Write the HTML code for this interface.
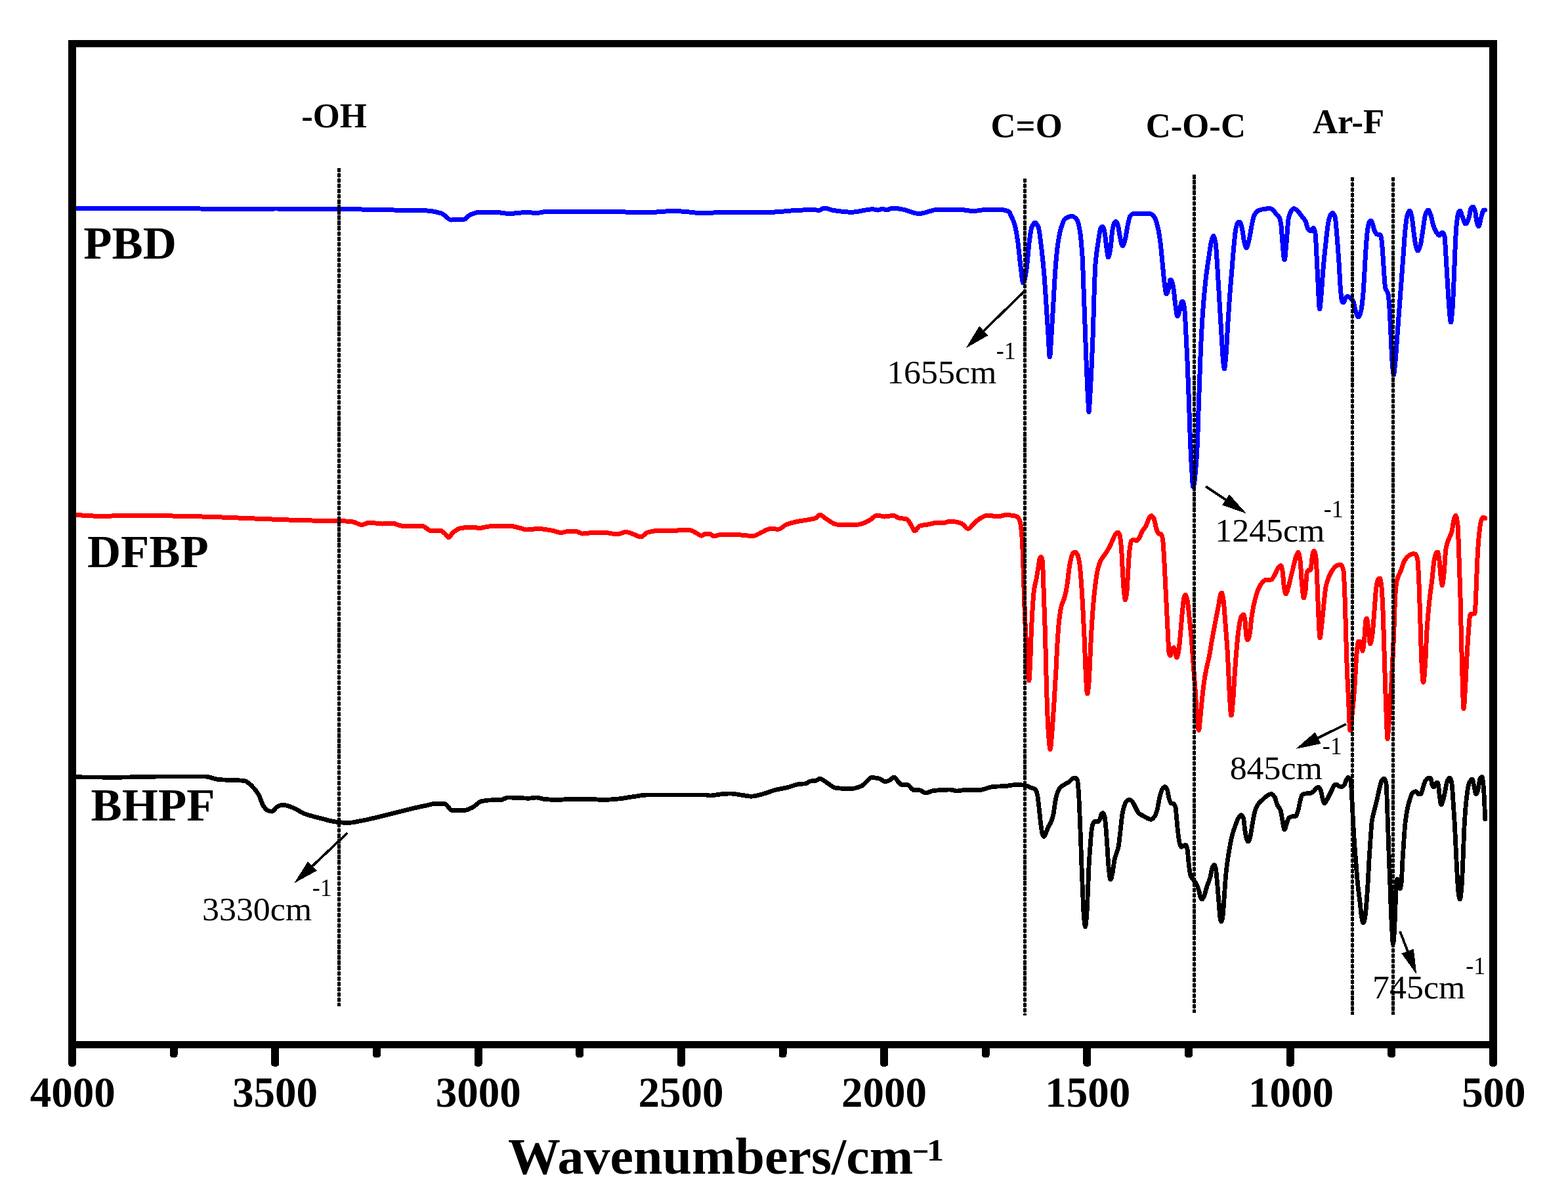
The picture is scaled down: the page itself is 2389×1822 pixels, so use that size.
<!DOCTYPE html>
<html lang="en"><head><meta charset="utf-8"><title>FTIR spectra</title>
<style>
html,body{margin:0;padding:0;background:#fff;}
body{width:2389px;height:1822px;overflow:hidden;}
svg{display:block;}
svg text{font-family:"Liberation Serif","DejaVu Serif",serif;fill:#000;}
</style></head><body>
<svg width="2389" height="1822" viewBox="0 0 2389 1822" shape-rendering="crispEdges">
<rect width="2389" height="1822" fill="#fff"/>

<path d="M110.0,317.5C160.0,317.5 210.0,317.5 260.0,317.5C290.0,317.5 320.0,318.5 350.0,318.5C373.3,318.5 396.7,318.0 420.0,318.0C452.0,318.0 484.0,318.2 516.0,318.5C544.0,318.7 572.0,319.5 600.0,320.0C615.8,320.3 631.7,320.2 647.5,320.8C655.8,321.0 664.2,322.6 672.5,325.0C677.5,326.4 682.5,335.0 687.5,335.0C694.2,335.0 700.8,334.8 707.5,334.2C710.0,334.0 712.5,329.2 715.0,328.0C720.0,325.6 725.0,323.2 730.0,323.2C740.0,323.2 750.0,323.4 760.0,323.8C765.0,323.9 770.0,325.5 775.0,325.5C784.2,325.5 793.3,323.5 802.5,323.5C807.5,323.5 812.5,324.5 817.5,324.5C823.3,324.5 829.2,322.0 835.0,322.0C869.2,322.0 903.3,322.0 937.5,322.0C945.8,322.0 954.2,323.5 962.5,323.5C971.7,323.5 980.8,323.5 990.0,323.5C1000.0,323.5 1010.0,321.8 1020.0,321.8C1025.8,321.8 1031.7,321.9 1037.5,322.0C1047.5,322.2 1057.5,324.5 1067.5,324.5C1074.2,324.5 1080.8,324.1 1087.5,324.0C1091.7,323.9 1095.8,323.8 1100.0,323.8C1125.0,323.5 1150.0,323.6 1175.0,323.2C1187.5,323.1 1200.0,321.1 1212.5,320.5C1221.7,320.1 1230.8,319.5 1240.0,319.5C1242.5,319.5 1245.0,320.5 1247.5,320.5C1250.3,320.5 1253.2,317.0 1256.0,317.0C1260.7,317.0 1265.3,319.8 1270.0,320.5C1279.2,321.9 1288.3,323.2 1297.5,323.2C1308.3,323.2 1319.2,318.8 1330.0,318.8C1332.5,318.8 1335.0,320.0 1337.5,320.0C1340.0,320.0 1342.5,318.2 1345.0,318.2C1346.7,318.2 1348.3,320.0 1350.0,320.0C1353.7,320.0 1357.3,317.0 1361.0,317.0C1365.7,317.0 1370.3,318.2 1375.0,319.0C1383.3,320.5 1391.7,325.5 1400.0,325.5C1410.0,325.5 1420.0,319.0 1430.0,319.0C1440.0,319.0 1450.0,319.0 1460.0,319.0C1467.5,319.0 1475.0,321.5 1482.5,321.5C1490.0,321.5 1497.5,319.2 1505.0,319.2C1511.7,319.2 1518.3,319.3 1525.0,319.5C1529.2,319.6 1533.3,320.3 1537.5,322.5C1538.3,322.9 1539.2,326.1 1540.0,328.0C1542.0,332.5 1544.0,335.3 1546.0,342.0C1547.7,347.6 1549.3,358.4 1551.0,370.0C1552.3,379.3 1553.7,396.2 1555.0,406.0C1556.3,415.8 1557.7,431.0 1559.0,431.0C1560.7,431.0 1562.3,420.0 1564.0,410.0C1565.3,402.0 1566.7,380.0 1568.0,370.0C1569.3,360.0 1570.7,349.1 1572.0,346.0C1573.7,342.1 1575.3,339.0 1577.0,339.0C1578.7,339.0 1580.3,342.1 1582.0,346.0C1583.7,349.9 1585.3,366.4 1587.0,380.0C1588.3,390.9 1589.7,404.0 1591.0,420.0C1592.1,433.6 1593.3,452.9 1594.4,470.0C1595.3,483.0 1596.1,497.2 1597.0,510.0C1597.8,521.8 1598.6,544.0 1599.4,544.0C1600.3,544.0 1601.1,522.7 1602.0,510.0C1603.0,495.4 1604.0,476.7 1605.0,460.0C1606.0,443.3 1607.0,422.7 1608.0,410.0C1609.3,393.1 1610.7,378.8 1612.0,370.0C1613.7,359.0 1615.3,351.0 1617.0,346.0C1619.0,340.0 1621.0,334.3 1623.0,333.0C1626.3,330.8 1629.7,329.4 1633.0,329.4C1635.7,329.4 1638.3,331.6 1641.0,335.0C1642.3,336.7 1643.7,342.7 1645.0,350.0C1646.3,357.3 1647.7,370.2 1649.0,390.0C1649.8,401.9 1650.6,429.1 1651.4,450.0C1652.1,469.1 1652.9,490.0 1653.6,510.0C1654.3,530.0 1655.1,553.1 1655.8,570.0C1656.5,585.3 1657.1,598.9 1657.8,610.0C1658.2,616.7 1658.6,627.5 1659.0,627.5C1659.5,627.5 1659.9,616.8 1660.4,610.0C1661.1,599.3 1661.9,584.9 1662.6,570.0C1663.5,552.4 1664.3,533.9 1665.2,510.0C1665.8,493.5 1666.4,466.8 1667.0,450.0C1667.7,431.3 1668.3,410.5 1669.0,402.0C1670.3,385.1 1671.7,378.7 1673.0,370.0C1674.3,361.3 1675.7,350.2 1677.0,348.0C1678.0,346.4 1679.0,345.0 1680.0,345.0C1681.0,345.0 1682.0,349.6 1683.0,354.0C1684.0,358.4 1685.0,371.6 1686.0,378.0C1686.9,383.6 1687.7,392.0 1688.6,392.0C1689.7,392.0 1690.9,384.5 1692.0,378.0C1693.0,372.2 1694.0,355.3 1695.0,350.0C1696.0,344.7 1697.0,340.1 1698.0,339.0C1698.7,338.3 1699.3,337.6 1700.0,337.6C1701.0,337.6 1702.0,339.7 1703.0,342.0C1704.3,345.0 1705.7,358.7 1707.0,364.0C1708.1,368.5 1709.3,374.6 1710.4,374.6C1711.6,374.6 1712.8,370.0 1714.0,366.0C1715.3,361.6 1716.7,349.9 1718.0,344.0C1719.3,338.1 1720.7,330.6 1722.0,329.0C1723.7,327.0 1725.3,325.6 1727.0,325.6C1735.3,325.6 1743.7,325.6 1752.0,325.6C1754.3,325.6 1756.7,328.0 1759.0,331.0C1760.7,333.1 1762.3,339.2 1764.0,346.0C1765.3,351.4 1766.7,359.9 1768.0,370.0C1769.0,377.6 1770.0,390.0 1771.0,400.0C1772.0,410.0 1773.0,422.5 1774.0,430.0C1775.0,437.5 1776.0,448.0 1777.0,448.0C1778.3,448.0 1779.7,442.9 1781.0,438.0C1781.7,435.5 1782.3,426.0 1783.0,426.0C1783.7,426.0 1784.3,426.4 1785.0,427.0C1786.0,427.9 1787.0,434.2 1788.0,440.0C1789.0,445.8 1790.0,459.4 1791.0,466.0C1792.0,472.6 1793.0,482.0 1794.0,482.0C1795.3,482.0 1796.7,475.1 1798.0,470.0C1798.7,467.4 1799.3,460.6 1800.0,460.0C1800.7,459.4 1801.3,459.0 1802.0,459.0C1803.0,459.0 1804.0,465.9 1805.0,474.0C1805.7,479.4 1806.3,497.4 1807.0,510.0C1807.7,522.6 1808.3,535.2 1809.0,550.0C1809.8,567.7 1810.6,588.1 1811.4,610.0C1812.1,628.2 1812.7,654.0 1813.4,670.0C1814.1,686.0 1814.7,699.7 1815.4,710.0C1816.3,723.3 1817.1,742.0 1818.0,742.0C1819.4,742.0 1820.8,725.2 1822.2,710.0C1823.0,701.3 1823.8,687.9 1824.6,670.0C1825.1,659.6 1825.5,639.9 1826.0,626.0C1826.7,606.2 1827.3,587.6 1828.0,570.0C1828.7,552.4 1829.3,533.5 1830.0,520.0C1831.0,499.7 1832.0,483.4 1833.0,470.0C1834.3,452.2 1835.7,437.7 1837.0,426.0C1838.7,411.4 1840.3,400.9 1842.0,390.0C1843.3,381.3 1844.7,370.1 1846.0,366.0C1847.0,362.9 1848.0,359.6 1849.0,359.6C1850.0,359.6 1851.0,364.5 1852.0,370.0C1853.0,375.5 1854.0,395.2 1855.0,410.0C1856.0,424.8 1857.0,443.3 1858.0,460.0C1859.0,476.7 1860.0,494.0 1861.0,510.0C1861.9,523.9 1862.7,542.1 1863.6,550.0C1864.2,555.5 1864.8,562.0 1865.4,562.0C1866.3,562.0 1867.1,549.7 1868.0,540.0C1869.0,528.9 1870.0,505.6 1871.0,490.0C1872.0,474.4 1873.0,459.2 1874.0,446.0C1875.0,432.8 1876.0,422.0 1877.0,410.0C1878.0,398.0 1879.0,384.1 1880.0,374.0C1881.0,363.9 1882.0,352.5 1883.0,348.0C1884.0,343.5 1885.0,339.7 1886.0,339.0C1886.8,338.4 1887.6,338.0 1888.4,338.0C1889.6,338.0 1890.8,342.1 1892.0,346.0C1893.2,349.9 1894.4,363.3 1895.6,368.0C1896.7,372.5 1897.9,378.0 1899.0,378.0C1900.3,378.0 1901.7,371.2 1903.0,366.0C1904.3,360.8 1905.7,350.2 1907.0,344.0C1908.3,337.8 1909.7,330.5 1911.0,328.0C1913.0,324.2 1915.0,322.0 1917.0,321.0C1920.0,319.6 1923.0,318.8 1926.0,318.4C1929.0,318.0 1932.0,317.6 1935.0,317.6C1936.7,317.6 1938.3,318.8 1940.0,320.0C1941.3,321.0 1942.7,324.4 1944.0,326.0C1945.7,328.0 1947.3,328.1 1949.0,331.0C1950.0,332.7 1951.0,337.3 1952.0,344.0C1952.7,348.5 1953.3,363.0 1954.0,370.0C1955.0,380.5 1956.0,396.0 1957.0,396.0C1958.0,396.0 1959.0,380.1 1960.0,370.0C1961.0,359.9 1962.0,339.2 1963.0,334.0C1964.0,328.8 1965.0,325.9 1966.0,324.0C1967.7,320.8 1969.3,317.6 1971.0,317.6C1973.0,317.6 1975.0,319.4 1977.0,321.0C1979.0,322.6 1981.0,326.3 1983.0,329.0C1985.0,331.7 1987.0,333.2 1989.0,337.0C1990.3,339.5 1991.7,347.4 1993.0,349.0C1994.3,350.6 1995.7,352.0 1997.0,352.0C1998.3,352.0 1999.7,347.6 2001.0,347.6C2002.0,347.6 2003.0,351.0 2004.0,356.0C2004.7,359.4 2005.3,377.7 2006.0,390.0C2006.7,402.3 2007.3,418.2 2008.0,430.0C2008.9,445.4 2009.7,471.0 2010.6,471.0C2011.4,471.0 2012.2,458.4 2013.0,450.0C2014.0,439.5 2015.0,421.5 2016.0,410.0C2017.3,394.7 2018.7,381.9 2020.0,370.0C2021.3,358.1 2022.7,343.8 2024.0,338.0C2025.3,332.2 2026.7,327.6 2028.0,326.0C2028.7,325.2 2029.3,324.4 2030.0,324.4C2031.3,324.4 2032.7,326.6 2034.0,330.0C2035.0,332.5 2036.0,348.6 2037.0,360.0C2038.0,371.4 2039.0,385.1 2040.0,400.0C2040.8,411.9 2041.6,430.7 2042.4,440.0C2043.1,447.7 2043.7,456.6 2044.4,458.0C2045.3,459.8 2046.1,461.0 2047.0,461.0C2048.0,461.0 2049.0,455.2 2050.0,454.0C2051.0,452.8 2052.0,451.6 2053.0,451.6C2054.7,451.6 2056.3,452.8 2058.0,454.0C2059.3,455.0 2060.7,457.1 2062.0,460.0C2063.3,462.9 2064.7,472.5 2066.0,476.0C2067.2,479.1 2068.4,483.0 2069.6,483.0C2070.9,483.0 2072.3,478.8 2073.6,474.0C2074.7,469.9 2075.9,458.7 2077.0,446.0C2077.7,438.5 2078.3,425.0 2079.0,414.0C2079.7,403.0 2080.3,389.2 2081.0,380.0C2081.9,368.0 2082.7,355.6 2083.6,350.0C2084.5,344.0 2085.5,338.7 2086.4,337.6C2087.1,336.7 2087.9,336.0 2088.6,336.0C2089.4,336.0 2090.2,338.2 2091.0,340.0C2092.0,342.3 2093.0,348.8 2094.0,351.0C2095.3,353.9 2096.7,356.7 2098.0,357.0C2099.7,357.4 2101.3,357.2 2103.0,357.6C2103.7,357.8 2104.3,361.9 2105.0,366.0C2105.7,370.1 2106.3,381.1 2107.0,390.0C2107.7,398.9 2108.3,411.5 2109.0,420.0C2109.5,426.8 2110.1,435.8 2110.6,438.0C2112.1,444.2 2113.5,442.0 2115.0,448.0C2115.7,450.7 2116.3,460.5 2117.0,470.0C2117.7,479.5 2118.3,496.7 2119.0,510.0C2119.7,523.3 2120.3,541.8 2121.0,550.0C2121.8,559.9 2122.6,571.0 2123.4,571.0C2124.3,571.0 2125.1,558.7 2126.0,550.0C2127.0,540.0 2128.0,523.3 2129.0,510.0C2130.0,496.7 2131.0,483.3 2132.0,470.0C2133.0,456.7 2134.0,443.3 2135.0,430.0C2136.0,416.7 2137.0,403.3 2138.0,390.0C2139.0,376.7 2140.0,359.5 2141.0,350.0C2142.0,340.5 2143.0,331.1 2144.0,328.0C2145.2,324.2 2146.4,321.0 2147.6,321.0C2148.7,321.0 2149.9,325.4 2151.0,330.0C2152.0,334.0 2153.0,346.7 2154.0,354.0C2155.0,361.3 2156.0,370.2 2157.0,374.0C2158.0,377.8 2159.0,382.0 2160.0,382.0C2161.3,382.0 2162.7,378.0 2164.0,374.0C2165.3,370.0 2166.7,358.0 2168.0,350.0C2169.3,342.0 2170.7,329.2 2172.0,326.0C2173.3,322.8 2174.7,320.0 2176.0,320.0C2177.3,320.0 2178.7,324.4 2180.0,328.0C2181.3,331.6 2182.7,340.2 2184.0,344.0C2185.3,347.8 2186.7,351.0 2188.0,353.0C2189.7,355.5 2191.3,358.6 2193.0,358.6C2194.7,358.6 2196.3,354.0 2198.0,354.0C2199.0,354.0 2200.0,356.3 2201.0,360.0C2201.7,362.5 2202.3,379.5 2203.0,390.0C2204.0,405.7 2205.0,424.3 2206.0,440.0C2206.7,450.5 2207.3,462.6 2208.0,470.0C2208.8,478.9 2209.6,491.0 2210.4,491.0C2211.3,491.0 2212.1,480.2 2213.0,470.0C2213.7,462.2 2214.3,444.8 2215.0,430.0C2215.7,415.2 2216.3,394.0 2217.0,380.0C2217.7,366.0 2218.3,350.7 2219.0,344.0C2220.0,334.0 2221.0,326.1 2222.0,324.0C2222.8,322.4 2223.6,321.0 2224.4,321.0C2225.6,321.0 2226.8,327.2 2228.0,330.0C2229.7,333.9 2231.3,341.0 2233.0,341.0C2234.7,341.0 2236.3,336.5 2238.0,332.0C2239.0,329.3 2240.0,319.6 2241.0,318.0C2242.0,316.4 2243.0,315.0 2244.0,315.0C2245.2,315.0 2246.4,318.3 2247.6,322.0C2248.4,324.5 2249.2,335.2 2250.0,338.0C2251.0,341.5 2252.0,345.0 2253.0,345.0C2254.0,345.0 2255.0,337.7 2256.0,334.0C2257.0,330.3 2258.0,325.8 2259.0,323.0C2259.3,322.1 2259.7,320.8 2260.0,320.6C2260.9,320.2 2261.9,320.2 2262.8,320.0" fill="none" stroke="#0000ff" stroke-width="7.0" stroke-linejoin="round" stroke-linecap="round"/>
<path d="M110.0,784.0C123.3,784.8 136.7,786.2 150.0,786.2C170.8,786.2 191.7,785.5 212.5,785.5C233.3,785.5 254.2,785.9 275.0,786.2C291.7,786.5 308.3,787.0 325.0,787.5C350.0,788.3 375.0,789.6 400.0,790.5C425.0,791.4 450.0,792.6 475.0,793.0C488.7,793.2 502.3,793.2 516.0,793.5C523.2,793.7 530.3,794.1 537.5,795.0C542.0,795.5 546.5,799.5 551.0,799.5C554.8,799.5 558.7,796.2 562.5,796.2C569.2,796.2 575.8,798.0 582.5,798.0C587.5,798.0 592.5,797.0 597.5,797.0C602.5,797.0 607.5,801.2 612.5,801.2C622.5,801.2 632.5,801.2 642.5,801.2C647.5,801.2 652.5,808.8 657.5,808.8C661.7,808.8 665.8,808.0 670.0,808.0C672.5,808.0 675.0,810.6 677.5,812.5C679.6,814.1 681.7,818.8 683.8,818.8C685.8,818.8 687.9,812.9 690.0,811.2C694.2,808.0 698.3,805.1 702.5,804.5C708.3,803.6 714.2,803.0 720.0,803.0C723.3,803.0 726.7,804.5 730.0,804.5C735.0,804.5 740.0,802.3 745.0,802.0C755.0,801.4 765.0,801.0 775.0,801.0C780.0,801.0 785.0,802.7 790.0,803.8C794.2,804.7 798.3,807.0 802.5,807.0C808.3,807.0 814.2,805.5 820.0,805.5C826.7,805.5 833.3,806.9 840.0,808.0C845.0,808.8 850.0,811.5 855.0,811.5C858.3,811.5 861.7,809.5 865.0,809.5C869.2,809.5 873.3,809.5 877.5,809.5C880.8,809.5 884.2,813.0 887.5,813.0C894.2,813.0 900.8,811.0 907.5,811.0C913.3,811.0 919.2,811.4 925.0,811.8C930.0,812.1 935.0,813.8 940.0,813.8C944.6,813.8 949.2,810.5 953.8,810.5C957.5,810.5 961.2,812.5 965.0,813.8C968.8,815.0 972.5,818.0 976.2,818.0C979.6,818.0 982.9,812.1 986.2,811.2C993.3,809.3 1000.4,808.0 1007.5,808.0C1013.3,808.0 1019.2,809.0 1025.0,809.0C1030.0,809.0 1035.0,807.0 1040.0,807.0C1044.2,807.0 1048.3,807.4 1052.5,808.0C1055.8,808.5 1059.2,811.3 1062.5,813.0C1064.6,814.1 1066.7,816.2 1068.8,816.2C1070.8,816.2 1072.9,813.0 1075.0,813.0C1077.1,813.0 1079.2,813.0 1081.2,813.0C1083.3,813.0 1085.4,817.0 1087.5,817.0C1090.0,817.0 1092.5,815.2 1095.0,815.0C1101.7,814.4 1108.3,814.0 1115.0,814.0C1125.8,814.0 1136.7,816.5 1147.5,816.5C1151.7,816.5 1155.8,813.0 1160.0,811.2C1164.6,809.3 1169.2,805.5 1173.8,805.5C1177.9,805.5 1182.1,806.2 1186.2,806.2C1190.0,806.2 1193.8,801.0 1197.5,799.5C1202.5,797.5 1207.5,796.1 1212.5,795.0C1218.3,793.7 1224.2,793.1 1230.0,792.0C1234.2,791.2 1238.3,790.9 1242.5,789.5C1244.8,788.7 1247.0,784.5 1249.2,784.5C1252.8,784.5 1256.4,789.2 1260.0,791.2C1265.0,794.1 1270.0,799.0 1275.0,799.0C1285.8,799.0 1296.7,799.0 1307.5,799.0C1313.3,799.0 1319.2,795.3 1325.0,792.5C1328.8,790.7 1332.5,785.0 1336.2,785.0C1340.0,785.0 1343.8,787.0 1347.5,787.0C1352.1,787.0 1356.7,785.5 1361.2,785.5C1364.2,785.5 1367.1,788.6 1370.0,789.2C1373.8,790.0 1377.5,789.8 1381.2,790.8C1383.3,791.3 1385.4,795.8 1387.5,798.8C1389.6,801.7 1391.7,808.8 1393.8,808.8C1396.2,808.8 1398.8,802.1 1401.2,801.2C1405.8,799.7 1410.4,799.6 1415.0,798.8C1420.0,797.8 1425.0,796.0 1430.0,796.0C1432.5,796.0 1435.0,796.5 1437.5,796.5C1440.8,796.5 1444.2,794.0 1447.5,794.0C1453.3,794.0 1459.2,795.5 1465.0,797.5C1468.3,798.6 1471.7,805.5 1475.0,805.5C1478.3,805.5 1481.7,799.0 1485.0,796.2C1488.3,793.5 1491.7,790.4 1495.0,788.8C1498.3,787.1 1501.7,785.0 1505.0,785.0C1510.0,785.0 1515.0,787.0 1520.0,787.0C1524.2,787.0 1528.3,784.5 1532.5,784.5C1535.0,784.5 1537.5,784.8 1540.0,785.0C1542.8,785.3 1545.7,785.5 1548.5,786.4C1550.3,787.0 1552.2,789.4 1554.0,794.0C1555.1,796.7 1556.1,806.4 1557.2,820.0C1557.9,828.5 1558.5,851.8 1559.2,870.0C1559.9,888.2 1560.5,913.2 1561.2,930.0C1562.1,953.6 1563.1,972.8 1564.0,990.0C1564.7,1003.5 1565.5,1018.4 1566.2,1026.0C1566.7,1030.8 1567.1,1037.0 1567.6,1037.0C1568.3,1037.0 1568.9,1022.5 1569.6,1010.0C1570.1,1001.3 1570.5,981.1 1571.0,970.0C1571.7,954.1 1572.3,940.3 1573.0,930.0C1573.9,916.7 1574.7,904.0 1575.6,898.0C1576.7,890.1 1577.9,888.0 1579.0,882.0C1580.0,876.7 1581.0,869.9 1582.0,864.0C1582.8,859.3 1583.6,851.1 1584.4,850.0C1585.1,849.1 1585.7,848.4 1586.4,848.4C1587.1,848.4 1587.7,851.4 1588.4,856.0C1588.9,859.2 1589.3,877.7 1589.8,890.0C1590.3,902.3 1590.7,916.7 1591.2,930.0C1591.7,943.3 1592.1,953.5 1592.6,970.0C1592.9,980.6 1593.2,998.0 1593.5,1010.0C1593.9,1024.7 1594.2,1038.3 1594.6,1050.0C1595.2,1069.1 1595.8,1088.1 1596.4,1100.0C1596.9,1110.6 1597.5,1119.2 1598.0,1125.0C1598.7,1132.3 1599.3,1141.5 1600.0,1141.5C1600.8,1141.5 1601.6,1130.3 1602.4,1122.0C1602.9,1116.5 1603.5,1107.6 1604.0,1100.0C1604.7,1090.5 1605.3,1080.5 1606.0,1070.0C1607.0,1054.3 1608.0,1038.3 1609.0,1020.0C1609.7,1007.8 1610.3,990.6 1611.0,980.0C1611.9,966.2 1612.7,953.6 1613.6,946.0C1614.7,936.0 1615.9,928.5 1617.0,924.0C1618.7,917.3 1620.3,916.0 1622.0,910.0C1623.3,905.2 1624.7,898.3 1626.0,890.0C1627.0,883.8 1628.0,872.4 1629.0,866.0C1630.0,859.6 1631.0,853.4 1632.0,850.0C1633.0,846.6 1634.0,843.2 1635.0,842.4C1636.0,841.6 1637.0,841.0 1638.0,841.0C1639.3,841.0 1640.7,843.3 1642.0,846.0C1643.0,848.0 1644.0,853.3 1645.0,860.0C1645.9,865.8 1646.7,878.2 1647.6,890.0C1648.4,900.9 1649.2,915.4 1650.0,930.0C1650.7,942.2 1651.3,955.1 1652.0,970.0C1652.5,981.9 1653.1,997.7 1653.6,1010.0C1654.1,1020.8 1654.5,1033.3 1655.0,1040.0C1655.5,1047.6 1656.1,1057.0 1656.6,1057.0C1657.4,1057.0 1658.2,1048.5 1659.0,1040.0C1659.7,1032.9 1660.3,1013.3 1661.0,1000.0C1661.7,986.7 1662.3,971.4 1663.0,960.0C1663.7,948.6 1664.3,938.4 1665.0,930.0C1666.0,917.4 1667.0,906.5 1668.0,898.0C1669.3,886.6 1670.7,875.9 1672.0,870.0C1673.7,862.6 1675.3,857.4 1677.0,854.0C1679.3,849.3 1681.7,847.6 1684.0,844.0C1686.0,840.9 1688.0,837.8 1690.0,834.0C1692.0,830.2 1694.0,825.1 1696.0,821.0C1697.3,818.2 1698.7,814.3 1700.0,813.0C1701.0,812.0 1702.0,811.0 1703.0,811.0C1704.0,811.0 1705.0,812.7 1706.0,815.0C1706.8,816.9 1707.6,825.1 1708.4,834.0C1709.1,841.4 1709.7,859.1 1710.4,870.0C1711.1,880.9 1711.7,893.6 1712.4,900.0C1713.1,906.4 1713.7,914.0 1714.4,914.0C1715.3,914.0 1716.1,907.3 1717.0,900.0C1717.7,894.4 1718.3,876.2 1719.0,866.0C1719.7,855.8 1720.3,843.3 1721.0,838.0C1721.9,831.1 1722.7,824.8 1723.6,824.0C1724.7,823.0 1725.9,822.4 1727.0,822.4C1728.7,822.4 1730.3,823.6 1732.0,823.6C1733.3,823.6 1734.7,821.0 1736.0,819.0C1737.3,817.0 1738.7,812.4 1740.0,810.0C1742.0,806.4 1744.0,804.7 1746.0,801.0C1747.7,797.9 1749.3,791.3 1751.0,789.0C1752.1,787.4 1753.3,785.6 1754.4,785.6C1755.6,785.6 1756.8,787.8 1758.0,790.0C1759.3,792.5 1760.7,802.1 1762.0,806.0C1763.0,808.9 1764.0,812.6 1765.0,813.0C1766.5,813.6 1767.9,813.3 1769.4,814.0C1770.1,814.3 1770.9,817.7 1771.6,822.0C1772.3,825.9 1772.9,839.0 1773.6,850.0C1774.3,861.0 1774.9,876.7 1775.6,890.0C1776.3,903.3 1776.9,916.7 1777.6,930.0C1778.3,943.3 1778.9,957.7 1779.6,970.0C1780.1,978.6 1780.5,992.0 1781.0,994.0C1781.7,996.8 1782.3,998.6 1783.0,998.6C1784.0,998.6 1785.0,991.9 1786.0,990.0C1786.8,988.4 1787.6,986.4 1788.4,986.4C1789.3,986.4 1790.1,993.1 1791.0,996.0C1791.7,998.2 1792.3,1002.0 1793.0,1002.0C1794.0,1002.0 1795.0,995.7 1796.0,990.0C1797.0,984.3 1798.0,970.7 1799.0,960.0C1799.9,950.7 1800.7,938.4 1801.6,930.0C1802.4,922.3 1803.2,912.5 1804.0,910.0C1804.7,907.9 1805.3,906.0 1806.0,906.0C1807.0,906.0 1808.0,909.9 1809.0,914.0C1810.0,918.1 1811.0,930.7 1812.0,940.0C1813.0,949.3 1814.0,958.6 1815.0,970.0C1816.0,981.4 1817.0,996.7 1818.0,1010.0C1819.0,1023.3 1820.0,1035.7 1821.0,1050.0C1821.9,1062.4 1822.7,1081.2 1823.6,1090.0C1824.6,1100.2 1825.6,1112.5 1826.6,1112.5C1827.3,1112.5 1827.9,1101.3 1828.6,1095.0C1829.4,1087.4 1830.2,1077.7 1831.0,1070.0C1832.1,1059.1 1833.3,1047.9 1834.4,1040.0C1835.8,1030.2 1837.2,1022.8 1838.6,1016.0C1839.9,1009.9 1841.1,1006.3 1842.4,1000.0C1843.6,994.0 1844.8,984.9 1846.0,978.0C1848.0,966.5 1850.0,956.5 1852.0,946.0C1853.7,937.2 1855.3,928.8 1857.0,920.0C1858.0,914.7 1859.0,905.2 1860.0,904.0C1860.5,903.5 1860.9,903.0 1861.4,903.0C1862.3,903.0 1863.1,908.6 1864.0,914.0C1865.0,920.2 1866.0,937.4 1867.0,950.0C1868.0,962.6 1869.0,973.8 1870.0,990.0C1870.7,1000.8 1871.3,1016.7 1872.0,1030.0C1872.7,1043.3 1873.3,1061.1 1874.0,1070.0C1874.7,1078.9 1875.3,1090.0 1876.0,1090.0C1876.8,1090.0 1877.6,1078.6 1878.4,1070.0C1879.3,1060.7 1880.1,1042.4 1881.0,1030.0C1882.0,1015.7 1883.0,1001.4 1884.0,990.0C1885.0,978.6 1886.0,966.8 1887.0,960.0C1888.3,951.0 1889.7,942.5 1891.0,940.0C1892.1,937.9 1893.3,936.0 1894.4,936.0C1895.3,936.0 1896.1,940.8 1897.0,946.0C1897.7,950.0 1898.3,967.2 1899.0,970.0C1899.7,972.8 1900.3,975.0 1901.0,975.0C1902.0,975.0 1903.0,970.5 1904.0,966.0C1905.0,961.5 1906.0,946.6 1907.0,940.0C1908.7,928.9 1910.3,920.6 1912.0,914.0C1913.7,907.4 1915.3,901.8 1917.0,898.0C1918.7,894.2 1920.3,891.0 1922.0,889.0C1924.0,886.6 1926.0,883.9 1928.0,883.6C1931.0,883.2 1934.0,883.4 1937.0,883.0C1938.7,882.8 1940.3,878.7 1942.0,876.0C1944.0,872.7 1946.0,865.9 1948.0,864.0C1949.2,862.8 1950.4,861.6 1951.6,861.6C1952.4,861.6 1953.2,865.9 1954.0,870.0C1954.8,874.1 1955.6,889.2 1956.4,894.0C1957.3,899.2 1958.1,905.0 1959.0,905.0C1960.0,905.0 1961.0,900.9 1962.0,898.0C1963.3,894.1 1964.7,887.3 1966.0,882.0C1967.3,876.7 1968.7,871.3 1970.0,866.0C1971.3,860.7 1972.7,853.7 1974.0,850.0C1975.3,846.3 1976.7,841.6 1978.0,841.6C1979.0,841.6 1980.0,847.6 1981.0,854.0C1981.9,859.6 1982.7,881.5 1983.6,890.0C1984.5,899.1 1985.5,911.0 1986.4,911.0C1987.3,911.0 1988.1,905.7 1989.0,900.0C1989.7,895.6 1990.3,876.8 1991.0,874.0C1991.7,871.2 1992.3,869.3 1993.0,869.0C1994.3,868.3 1995.7,868.7 1997.0,868.0C1997.7,867.6 1998.3,853.6 1999.0,850.0C2000.0,844.6 2001.0,839.0 2002.0,839.0C2003.0,839.0 2004.0,843.5 2005.0,850.0C2005.7,854.3 2006.3,875.2 2007.0,890.0C2007.7,904.8 2008.3,927.0 2009.0,940.0C2009.7,953.0 2010.3,972.0 2011.0,972.0C2012.0,972.0 2013.0,958.5 2014.0,950.0C2015.0,941.5 2016.0,929.3 2017.0,920.0C2018.0,910.7 2019.0,898.9 2020.0,894.0C2021.7,885.9 2023.3,881.8 2025.0,878.0C2027.3,872.7 2029.7,868.6 2032.0,866.0C2034.0,863.8 2036.0,861.4 2038.0,861.0C2039.7,860.7 2041.3,860.4 2043.0,860.4C2044.3,860.4 2045.7,863.7 2047.0,870.0C2047.7,873.1 2048.3,893.1 2049.0,910.0C2049.5,922.7 2050.0,943.3 2050.5,960.0C2051.0,976.7 2051.5,996.5 2052.0,1010.0C2052.8,1032.5 2053.7,1047.9 2054.5,1065.0C2055.3,1082.1 2056.2,1113.0 2057.0,1113.0C2058.1,1113.0 2059.3,1095.7 2060.4,1085.0C2061.5,1075.0 2062.5,1064.2 2063.6,1050.0C2064.4,1039.3 2065.2,1021.3 2066.0,1010.0C2066.5,1002.5 2067.1,994.6 2067.6,990.0C2068.3,984.2 2068.9,977.0 2069.6,977.0C2070.7,977.0 2071.9,977.4 2073.0,978.0C2074.0,978.6 2075.0,991.6 2076.0,991.6C2077.0,991.6 2078.0,979.4 2079.0,970.0C2079.7,963.7 2080.3,945.6 2081.0,944.0C2081.5,942.9 2081.9,942.0 2082.4,942.0C2083.3,942.0 2084.1,953.5 2085.0,960.0C2085.9,966.5 2086.7,981.0 2087.6,981.0C2088.7,981.0 2089.9,973.4 2091.0,966.0C2092.0,959.5 2093.0,942.0 2094.0,930.0C2095.0,918.0 2096.0,900.0 2097.0,894.0C2098.0,888.0 2099.0,882.7 2100.0,882.0C2100.8,881.4 2101.6,881.0 2102.4,881.0C2103.1,881.0 2103.8,885.3 2104.5,890.0C2105.3,895.5 2106.2,912.2 2107.0,930.0C2107.6,942.8 2108.2,966.1 2108.8,985.0C2109.5,1006.0 2110.1,1030.0 2110.8,1050.0C2111.3,1066.0 2111.9,1082.9 2112.4,1095.0C2112.9,1107.1 2113.5,1125.5 2114.0,1125.5C2114.7,1125.5 2115.5,1109.6 2116.2,1100.0C2116.9,1091.3 2117.5,1080.5 2118.2,1070.0C2119.0,1057.4 2119.8,1044.6 2120.6,1030.0C2121.3,1017.8 2121.9,1004.9 2122.6,990.0C2123.1,978.1 2123.7,964.2 2124.2,950.0C2124.7,937.5 2125.1,917.2 2125.6,910.0C2126.4,897.6 2127.2,889.7 2128.0,886.0C2130.0,876.8 2132.0,875.3 2134.0,870.0C2136.0,864.7 2138.0,857.2 2140.0,854.0C2142.0,850.8 2144.0,848.4 2146.0,847.0C2148.3,845.4 2150.7,843.6 2153.0,843.6C2154.3,843.6 2155.7,843.9 2157.0,844.4C2158.0,844.8 2159.0,848.3 2160.0,854.0C2160.7,857.8 2161.3,875.0 2162.0,890.0C2162.7,905.0 2163.3,930.0 2164.0,950.0C2164.7,970.0 2165.3,998.8 2166.0,1010.0C2166.9,1024.6 2167.7,1039.6 2168.6,1039.6C2169.6,1039.6 2170.6,1023.6 2171.6,1010.0C2172.4,999.1 2173.2,972.1 2174.0,960.0C2175.3,939.8 2176.7,926.6 2178.0,914.0C2179.3,901.4 2180.7,893.5 2182.0,882.0C2183.0,873.4 2184.0,859.5 2185.0,854.0C2186.0,848.5 2187.0,843.4 2188.0,842.4C2188.8,841.6 2189.6,841.0 2190.4,841.0C2191.3,841.0 2192.1,848.1 2193.0,854.0C2193.9,859.9 2194.7,875.8 2195.6,882.0C2196.2,886.3 2196.8,892.0 2197.4,892.0C2198.3,892.0 2199.1,881.7 2200.0,874.0C2201.0,865.1 2202.0,841.6 2203.0,836.0C2204.3,828.5 2205.7,825.8 2207.0,822.0C2208.7,817.2 2210.3,815.9 2212.0,810.0C2213.0,806.4 2214.0,795.1 2215.0,792.0C2216.0,788.9 2217.0,785.6 2218.0,785.6C2219.0,785.6 2220.0,791.6 2221.0,800.0C2221.7,805.6 2222.3,831.8 2223.0,850.0C2223.7,868.2 2224.3,886.2 2225.0,910.0C2225.5,926.6 2225.9,951.3 2226.4,970.0C2226.9,991.4 2227.5,1013.9 2228.0,1030.0C2228.7,1050.1 2229.3,1080.0 2230.0,1080.0C2230.8,1080.0 2231.6,1062.1 2232.4,1050.0C2233.3,1036.9 2234.1,1014.8 2235.0,1000.0C2235.9,985.2 2236.7,970.5 2237.6,960.0C2238.4,950.3 2239.2,936.4 2240.0,936.0C2242.3,934.8 2244.7,935.7 2247.0,934.4C2247.7,934.0 2248.3,913.6 2249.0,900.0C2249.7,886.4 2250.3,861.8 2251.0,850.0C2252.0,832.2 2253.0,818.3 2254.0,810.0C2255.0,801.7 2256.0,794.2 2257.0,792.0C2258.0,789.8 2259.0,788.0 2260.0,788.0C2260.9,788.0 2261.9,788.9 2262.8,789.4" fill="none" stroke="#ff0000" stroke-width="7.0" stroke-linejoin="round" stroke-linecap="round"/>
<path d="M110.0,1183.8C131.7,1183.9 153.3,1184.2 175.0,1184.2C200.0,1184.2 225.0,1183.0 250.0,1183.0C270.8,1183.0 291.7,1183.0 312.5,1183.0C319.2,1183.0 325.8,1186.9 332.5,1187.5C345.8,1188.7 359.2,1188.0 372.5,1189.5C375.8,1189.9 379.2,1193.4 382.5,1196.2C386.2,1199.5 390.0,1203.9 393.8,1210.0C396.2,1214.1 398.8,1223.8 401.2,1227.5C403.3,1230.6 405.4,1233.6 407.5,1234.5C409.8,1235.5 412.2,1236.2 414.5,1236.2C417.2,1236.2 419.8,1229.9 422.5,1228.8C425.4,1227.5 428.3,1226.2 431.2,1226.2C435.8,1226.2 440.4,1228.4 445.0,1230.0C451.7,1232.3 458.3,1237.6 465.0,1240.0C473.3,1243.0 481.7,1244.9 490.0,1247.0C496.7,1248.7 503.3,1250.9 510.0,1251.8C516.7,1252.6 523.3,1253.5 530.0,1253.5C536.7,1253.5 543.3,1251.7 550.0,1250.5C558.3,1249.0 566.7,1247.0 575.0,1245.0C583.3,1243.0 591.7,1240.8 600.0,1238.8C608.3,1236.7 616.7,1234.5 625.0,1232.5C633.3,1230.5 641.7,1228.7 650.0,1227.0C654.2,1226.1 658.3,1224.5 662.5,1224.5C667.5,1224.5 672.5,1224.5 677.5,1224.5C681.2,1224.5 685.0,1234.5 688.8,1234.5C695.0,1234.5 701.2,1234.5 707.5,1234.5C711.7,1234.5 715.8,1232.0 720.0,1230.0C724.6,1227.8 729.2,1221.4 733.8,1220.5C739.2,1219.5 744.6,1218.8 750.0,1218.8C754.2,1218.8 758.3,1218.8 762.5,1218.8C766.2,1218.8 770.0,1215.0 773.8,1215.0C779.2,1215.0 784.6,1215.3 790.0,1215.5C795.0,1215.7 800.0,1216.2 805.0,1216.2C809.2,1216.2 813.3,1215.0 817.5,1215.0C821.7,1215.0 825.8,1217.2 830.0,1217.5C836.7,1218.1 843.3,1218.5 850.0,1218.5C856.7,1218.5 863.3,1217.2 870.0,1217.2C880.0,1217.2 890.0,1217.2 900.0,1217.2C905.8,1217.2 911.7,1218.5 917.5,1218.5C925.8,1218.5 934.2,1217.7 942.5,1217.0C949.2,1216.4 955.8,1214.9 962.5,1214.0C970.8,1212.9 979.2,1211.0 987.5,1211.0C1016.7,1211.0 1045.8,1211.0 1075.0,1211.0C1077.5,1211.0 1080.0,1212.0 1082.5,1212.0C1087.5,1212.0 1092.5,1210.4 1097.5,1210.0C1102.5,1209.6 1107.5,1209.0 1112.5,1209.0C1118.3,1209.0 1124.2,1210.5 1130.0,1211.2C1135.0,1211.9 1140.0,1213.2 1145.0,1213.2C1151.7,1213.2 1158.3,1210.6 1165.0,1208.8C1170.0,1207.4 1175.0,1205.1 1180.0,1203.8C1186.7,1202.0 1193.3,1201.1 1200.0,1199.5C1205.8,1198.1 1211.7,1195.2 1217.5,1194.5C1220.8,1194.1 1224.2,1194.2 1227.5,1193.8C1230.0,1193.4 1232.5,1190.3 1235.0,1190.0C1237.5,1189.7 1240.0,1189.8 1242.5,1189.5C1244.8,1189.2 1247.0,1186.2 1249.2,1186.2C1252.8,1186.2 1256.4,1190.4 1260.0,1192.5C1264.6,1195.2 1269.2,1200.0 1273.8,1200.5C1280.8,1201.3 1287.9,1201.8 1295.0,1201.8C1300.8,1201.8 1306.7,1199.9 1312.5,1197.5C1315.0,1196.5 1317.5,1193.4 1320.0,1191.2C1322.5,1189.1 1325.0,1184.5 1327.5,1184.5C1331.7,1184.5 1335.8,1185.3 1340.0,1186.2C1342.9,1186.9 1345.8,1190.8 1348.8,1190.8C1350.8,1190.8 1352.9,1189.6 1355.0,1188.8C1357.5,1187.7 1360.0,1184.0 1362.5,1184.0C1364.6,1184.0 1366.7,1189.2 1368.8,1191.2C1370.4,1192.9 1372.1,1195.5 1373.8,1195.5C1376.7,1195.5 1379.6,1195.5 1382.5,1195.5C1385.8,1195.5 1389.2,1203.8 1392.5,1203.8C1395.4,1203.8 1398.3,1203.8 1401.2,1203.8C1404.2,1203.8 1407.1,1208.0 1410.0,1208.0C1414.2,1208.0 1418.3,1204.9 1422.5,1204.5C1430.8,1203.6 1439.2,1203.0 1447.5,1203.0C1450.8,1203.0 1454.2,1205.0 1457.5,1205.0C1461.7,1205.0 1465.8,1203.5 1470.0,1203.5C1477.5,1203.5 1485.0,1203.5 1492.5,1203.5C1499.2,1203.5 1505.8,1199.1 1512.5,1198.5C1519.2,1197.9 1525.8,1198.0 1532.5,1197.5C1537.5,1197.1 1542.5,1195.5 1547.5,1195.5C1552.3,1195.5 1557.2,1195.8 1562.0,1196.4C1564.7,1196.7 1567.3,1198.5 1570.0,1199.6C1572.3,1200.5 1574.7,1200.7 1577.0,1202.4C1578.1,1203.2 1579.3,1206.0 1580.4,1210.0C1581.3,1213.1 1582.1,1222.7 1583.0,1230.0C1583.9,1237.3 1584.7,1247.3 1585.6,1254.0C1586.4,1260.2 1587.2,1267.7 1588.0,1270.0C1588.9,1272.4 1589.7,1274.6 1590.6,1274.6C1591.7,1274.6 1592.9,1270.6 1594.0,1268.0C1595.0,1265.7 1596.0,1262.1 1597.0,1260.0C1598.3,1257.2 1599.7,1256.0 1601.0,1253.0C1602.3,1250.0 1603.7,1245.9 1605.0,1240.0C1606.0,1235.6 1607.0,1225.0 1608.0,1220.0C1609.0,1215.0 1610.0,1210.7 1611.0,1208.0C1612.3,1204.4 1613.7,1201.5 1615.0,1200.0C1617.3,1197.4 1619.7,1196.5 1622.0,1195.0C1624.3,1193.5 1626.7,1192.7 1629.0,1191.0C1630.7,1189.8 1632.3,1187.2 1634.0,1186.4C1635.3,1185.7 1636.7,1185.0 1638.0,1185.0C1639.2,1185.0 1640.4,1186.4 1641.6,1189.0C1642.3,1190.5 1642.9,1200.4 1643.6,1210.0C1644.1,1216.7 1644.5,1229.2 1645.0,1240.0C1645.5,1252.3 1646.1,1265.8 1646.6,1280.0C1647.1,1292.5 1647.5,1307.5 1648.0,1320.0C1648.5,1334.2 1649.1,1348.1 1649.6,1360.0C1650.2,1373.4 1650.8,1389.1 1651.4,1396.0C1652.1,1403.7 1652.7,1412.0 1653.4,1412.0C1654.1,1412.0 1654.9,1403.9 1655.6,1396.0C1656.2,1389.5 1656.8,1373.4 1657.4,1360.0C1657.9,1348.1 1658.5,1330.1 1659.0,1320.0C1659.7,1307.4 1660.3,1298.9 1661.0,1290.0C1661.7,1281.1 1662.3,1271.0 1663.0,1266.0C1663.7,1261.0 1664.3,1256.3 1665.0,1255.0C1666.0,1253.0 1667.0,1251.6 1668.0,1251.6C1669.7,1251.6 1671.3,1251.6 1673.0,1251.6C1674.0,1251.6 1675.0,1249.9 1676.0,1248.0C1676.7,1246.7 1677.3,1240.7 1678.0,1240.0C1678.9,1239.0 1679.7,1238.4 1680.6,1238.4C1681.4,1238.4 1682.2,1241.0 1683.0,1244.0C1683.7,1246.5 1684.3,1254.7 1685.0,1262.0C1685.7,1269.3 1686.3,1280.3 1687.0,1290.0C1687.7,1299.7 1688.3,1313.7 1689.0,1320.0C1690.0,1329.5 1691.0,1340.0 1692.0,1340.0C1693.0,1340.0 1694.0,1334.4 1695.0,1330.0C1696.0,1325.6 1697.0,1314.4 1698.0,1310.0C1699.0,1305.6 1700.0,1303.3 1701.0,1300.0C1702.0,1296.7 1703.0,1294.7 1704.0,1290.0C1705.0,1285.3 1706.0,1274.3 1707.0,1266.0C1708.0,1257.7 1709.0,1245.3 1710.0,1240.0C1711.3,1232.9 1712.7,1227.9 1714.0,1225.0C1715.3,1222.1 1716.7,1219.5 1718.0,1219.0C1719.0,1218.7 1720.0,1218.4 1721.0,1218.4C1722.3,1218.4 1723.7,1219.7 1725.0,1221.0C1726.7,1222.6 1728.3,1227.0 1730.0,1230.0C1731.7,1233.0 1733.3,1237.5 1735.0,1239.0C1737.3,1241.1 1739.7,1241.7 1742.0,1243.0C1744.3,1244.3 1746.7,1246.1 1749.0,1247.0C1750.7,1247.6 1752.3,1248.4 1754.0,1248.4C1755.7,1248.4 1757.3,1246.2 1759.0,1244.0C1760.3,1242.2 1761.7,1238.4 1763.0,1234.0C1764.3,1229.6 1765.7,1219.0 1767.0,1214.0C1768.3,1209.0 1769.7,1203.8 1771.0,1202.0C1772.3,1200.2 1773.7,1198.6 1775.0,1198.6C1776.1,1198.6 1777.3,1200.6 1778.4,1203.0C1779.3,1204.8 1780.1,1213.1 1781.0,1216.0C1782.0,1219.4 1783.0,1223.2 1784.0,1223.6C1785.3,1224.1 1786.7,1223.9 1788.0,1224.4C1789.0,1224.8 1790.0,1226.7 1791.0,1230.0C1791.7,1232.2 1792.3,1243.3 1793.0,1250.0C1793.7,1256.7 1794.3,1264.9 1795.0,1270.0C1795.9,1276.7 1796.7,1283.6 1797.6,1286.0C1798.4,1288.2 1799.2,1290.4 1800.0,1290.4C1801.3,1290.4 1802.7,1288.3 1804.0,1288.0C1805.0,1287.8 1806.0,1287.6 1807.0,1287.6C1807.7,1287.6 1808.3,1290.8 1809.0,1294.0C1809.7,1297.2 1810.3,1308.6 1811.0,1314.0C1812.0,1322.1 1813.0,1331.5 1814.0,1334.0C1815.3,1337.4 1816.7,1338.1 1818.0,1340.0C1819.7,1342.4 1821.3,1343.9 1823.0,1347.0C1824.3,1349.5 1825.7,1353.3 1827.0,1358.0C1827.7,1360.3 1828.3,1365.7 1829.0,1367.0C1829.9,1368.6 1830.7,1370.0 1831.6,1370.0C1832.7,1370.0 1833.9,1366.6 1835.0,1364.0C1836.3,1360.9 1837.7,1354.2 1839.0,1350.0C1840.7,1344.8 1842.3,1342.0 1844.0,1336.0C1845.0,1332.4 1846.0,1324.2 1847.0,1322.0C1848.0,1319.8 1849.0,1317.6 1850.0,1317.6C1850.8,1317.6 1851.6,1320.7 1852.4,1324.0C1853.3,1327.6 1854.1,1340.4 1855.0,1350.0C1855.8,1358.9 1856.6,1370.6 1857.4,1380.0C1857.9,1386.3 1858.5,1395.0 1859.0,1398.0C1859.5,1401.0 1860.1,1404.0 1860.6,1404.0C1861.4,1404.0 1862.2,1400.3 1863.0,1396.0C1863.7,1392.4 1864.3,1378.8 1865.0,1370.0C1866.0,1356.8 1867.0,1339.7 1868.0,1330.0C1869.3,1317.0 1870.7,1308.2 1872.0,1300.0C1873.7,1289.7 1875.3,1280.6 1877.0,1274.0C1878.7,1267.4 1880.3,1262.6 1882.0,1258.0C1883.7,1253.4 1885.3,1248.5 1887.0,1246.0C1888.3,1244.0 1889.7,1241.6 1891.0,1241.6C1892.1,1241.6 1893.3,1243.4 1894.4,1246.0C1895.3,1248.0 1896.1,1260.7 1897.0,1266.0C1897.9,1271.3 1898.7,1277.0 1899.6,1279.0C1900.3,1280.5 1900.9,1282.0 1901.6,1282.0C1902.7,1282.0 1903.9,1277.9 1905.0,1274.0C1906.0,1270.6 1907.0,1261.5 1908.0,1256.0C1909.3,1248.7 1910.7,1240.1 1912.0,1236.0C1913.7,1230.8 1915.3,1227.3 1917.0,1225.0C1919.3,1221.7 1921.7,1220.2 1924.0,1218.0C1926.3,1215.8 1928.7,1213.3 1931.0,1212.0C1933.0,1210.9 1935.0,1209.6 1937.0,1209.6C1938.7,1209.6 1940.3,1211.7 1942.0,1214.0C1943.3,1215.9 1944.7,1223.1 1946.0,1226.0C1947.7,1229.7 1949.3,1230.0 1951.0,1234.5C1952.0,1237.2 1953.0,1245.1 1954.0,1250.0C1955.0,1254.9 1956.0,1264.0 1957.0,1264.0C1958.0,1264.0 1959.0,1258.7 1960.0,1256.0C1961.2,1252.7 1962.4,1247.0 1963.6,1246.0C1965.1,1244.8 1966.5,1244.3 1968.0,1244.0C1970.0,1243.6 1972.0,1243.8 1974.0,1243.3C1975.3,1243.0 1976.7,1238.2 1978.0,1234.0C1979.0,1230.8 1980.0,1223.7 1981.0,1220.0C1982.0,1216.3 1983.0,1211.8 1984.0,1211.0C1985.7,1209.7 1987.3,1209.2 1989.0,1209.0C1991.3,1208.8 1993.7,1208.8 1996.0,1208.6C1998.0,1208.4 2000.0,1206.7 2002.0,1205.0C2003.3,1203.9 2004.7,1200.7 2006.0,1200.0C2007.0,1199.5 2008.0,1199.0 2009.0,1199.0C2010.0,1199.0 2011.0,1201.0 2012.0,1203.0C2013.0,1205.0 2014.0,1212.7 2015.0,1216.0C2016.0,1219.3 2017.0,1224.0 2018.0,1224.0C2019.3,1224.0 2020.7,1220.3 2022.0,1218.0C2023.3,1215.7 2024.7,1212.7 2026.0,1210.0C2027.3,1207.3 2028.7,1204.7 2030.0,1202.0C2031.0,1200.0 2032.0,1196.6 2033.0,1196.0C2034.0,1195.4 2035.0,1195.0 2036.0,1195.0C2037.3,1195.0 2038.7,1197.1 2040.0,1197.6C2041.3,1198.1 2042.7,1198.6 2044.0,1198.6C2045.3,1198.6 2046.7,1197.4 2048.0,1196.0C2049.0,1195.0 2050.0,1190.9 2051.0,1189.0C2052.0,1187.1 2053.0,1184.4 2054.0,1184.4C2055.3,1184.4 2056.7,1186.2 2058.0,1190.0C2058.7,1191.9 2059.3,1208.6 2060.0,1220.0C2060.7,1231.4 2061.3,1248.6 2062.0,1260.0C2062.7,1271.4 2063.3,1280.9 2064.0,1290.0C2064.8,1300.9 2065.6,1310.4 2066.4,1320.0C2067.3,1330.4 2068.1,1341.8 2069.0,1350.0C2070.0,1359.5 2071.0,1365.4 2072.0,1374.0C2072.8,1380.9 2073.6,1391.6 2074.4,1396.0C2075.3,1400.7 2076.1,1406.0 2077.0,1406.0C2078.0,1406.0 2079.0,1401.2 2080.0,1396.0C2080.8,1391.8 2081.6,1380.1 2082.4,1370.0C2083.1,1361.6 2083.7,1351.2 2084.4,1340.0C2084.9,1331.1 2085.5,1318.9 2086.0,1310.0C2086.7,1298.8 2087.3,1289.1 2088.0,1280.0C2088.8,1269.1 2089.6,1255.4 2090.4,1250.0C2091.6,1241.9 2092.8,1239.1 2094.0,1234.0C2095.3,1228.4 2096.7,1223.6 2098.0,1218.0C2099.3,1212.4 2100.7,1205.4 2102.0,1200.0C2103.0,1196.0 2104.0,1190.3 2105.0,1189.0C2106.3,1187.3 2107.7,1186.0 2109.0,1186.0C2110.0,1186.0 2111.0,1188.8 2112.0,1194.0C2112.5,1196.8 2113.1,1216.5 2113.6,1230.0C2114.1,1241.8 2114.5,1256.7 2115.0,1270.0C2115.5,1283.3 2115.9,1297.5 2116.4,1310.0C2116.9,1324.2 2117.5,1335.8 2118.0,1350.0C2118.5,1362.5 2118.9,1379.4 2119.4,1390.0C2119.9,1402.1 2120.5,1411.9 2121.0,1420.0C2121.5,1427.1 2121.9,1438.0 2122.4,1438.0C2123.1,1438.0 2123.7,1429.0 2124.4,1420.0C2124.9,1412.8 2125.5,1391.8 2126.0,1380.0C2126.3,1372.7 2126.7,1368.1 2127.0,1360.0C2127.2,1355.1 2127.4,1342.9 2127.6,1342.0C2128.1,1339.9 2128.5,1339.0 2129.0,1339.0C2129.7,1339.0 2130.3,1348.0 2131.0,1350.0C2131.7,1352.0 2132.3,1354.0 2133.0,1354.0C2133.7,1354.0 2134.3,1350.4 2135.0,1346.0C2135.7,1341.6 2136.3,1320.9 2137.0,1310.0C2137.7,1299.1 2138.3,1289.3 2139.0,1280.0C2139.7,1270.7 2140.3,1260.0 2141.0,1254.0C2142.0,1245.0 2143.0,1239.1 2144.0,1234.0C2145.3,1227.3 2146.7,1222.1 2148.0,1218.0C2149.3,1213.9 2150.7,1209.1 2152.0,1208.0C2153.7,1206.6 2155.3,1205.6 2157.0,1205.6C2158.7,1205.6 2160.3,1210.0 2162.0,1210.0C2163.0,1210.0 2164.0,1209.9 2165.0,1209.6C2166.0,1209.3 2167.0,1203.0 2168.0,1200.0C2169.3,1196.0 2170.7,1190.7 2172.0,1189.0C2173.7,1186.9 2175.3,1185.0 2177.0,1185.0C2178.0,1185.0 2179.0,1185.3 2180.0,1186.0C2180.7,1186.4 2181.3,1194.8 2182.0,1196.0C2183.0,1197.7 2184.0,1199.0 2185.0,1199.0C2186.3,1199.0 2187.7,1192.0 2189.0,1192.0C2189.7,1192.0 2190.3,1192.4 2191.0,1193.0C2191.7,1193.6 2192.3,1205.2 2193.0,1210.0C2193.9,1216.2 2194.7,1226.0 2195.6,1226.0C2196.7,1226.0 2197.9,1221.6 2199.0,1218.0C2200.0,1214.8 2201.0,1208.7 2202.0,1204.0C2203.0,1199.3 2204.0,1192.0 2205.0,1190.0C2206.3,1187.3 2207.7,1185.0 2209.0,1185.0C2210.0,1185.0 2211.0,1188.9 2212.0,1194.0C2212.7,1197.4 2213.3,1210.7 2214.0,1220.0C2214.7,1229.3 2215.3,1238.6 2216.0,1250.0C2216.7,1261.4 2217.3,1276.7 2218.0,1290.0C2218.7,1303.3 2219.3,1318.6 2220.0,1330.0C2220.7,1341.4 2221.3,1355.6 2222.0,1360.0C2222.8,1365.3 2223.6,1370.0 2224.4,1370.0C2225.3,1370.0 2226.1,1359.8 2227.0,1350.0C2227.7,1342.4 2228.3,1324.8 2229.0,1310.0C2229.7,1295.2 2230.3,1271.8 2231.0,1260.0C2232.0,1242.2 2233.0,1228.9 2234.0,1220.0C2235.3,1208.2 2236.7,1197.1 2238.0,1194.0C2239.7,1190.1 2241.3,1187.0 2243.0,1187.0C2244.0,1187.0 2245.0,1194.2 2246.0,1198.0C2247.0,1201.8 2248.0,1210.0 2249.0,1210.0C2250.1,1210.0 2251.3,1204.4 2252.4,1200.0C2253.3,1196.7 2254.1,1187.2 2255.0,1186.0C2256.0,1184.6 2257.0,1183.6 2258.0,1183.6C2258.8,1183.6 2259.6,1191.7 2260.4,1200.0C2260.9,1205.5 2261.5,1219.0 2262.0,1230.0C2262.3,1235.5 2262.5,1242.0 2262.8,1248.0" fill="none" stroke="#000000" stroke-width="6.8" stroke-linejoin="round" stroke-linecap="round"/>
<path fill="#000" fill-rule="evenodd" d="M104,61.3H2280.8V1596.6H104Z M116,71.7V1586.3H2269.2V71.7Z"/>
<path fill="#000" d="M104.00,1591V1620.10Q104.00,1624.70 108.60,1624.70H111.40Q116.00,1624.70 116.00,1620.10V1591Z"/>
<path fill="#000" d="M258.64,1591V1606.40Q258.64,1611.00 263.24,1611.00H266.04Q270.64,1611.00 270.64,1606.40V1591Z"/>
<path fill="#000" d="M413.29,1591V1620.10Q413.29,1624.70 417.89,1624.70H420.69Q425.29,1624.70 425.29,1620.10V1591Z"/>
<path fill="#000" d="M567.93,1591V1606.40Q567.93,1611.00 572.53,1611.00H575.33Q579.93,1611.00 579.93,1606.40V1591Z"/>
<path fill="#000" d="M722.57,1591V1620.10Q722.57,1624.70 727.17,1624.70H729.97Q734.57,1624.70 734.57,1620.10V1591Z"/>
<path fill="#000" d="M877.21,1591V1606.40Q877.21,1611.00 881.81,1611.00H884.61Q889.21,1611.00 889.21,1606.40V1591Z"/>
<path fill="#000" d="M1031.86,1591V1620.10Q1031.86,1624.70 1036.46,1624.70H1039.26Q1043.86,1624.70 1043.86,1620.10V1591Z"/>
<path fill="#000" d="M1186.50,1591V1606.40Q1186.50,1611.00 1191.10,1611.00H1193.90Q1198.50,1611.00 1198.50,1606.40V1591Z"/>
<path fill="#000" d="M1341.14,1591V1620.10Q1341.14,1624.70 1345.74,1624.70H1348.54Q1353.14,1624.70 1353.14,1620.10V1591Z"/>
<path fill="#000" d="M1495.79,1591V1606.40Q1495.79,1611.00 1500.39,1611.00H1503.19Q1507.79,1611.00 1507.79,1606.40V1591Z"/>
<path fill="#000" d="M1650.43,1591V1620.10Q1650.43,1624.70 1655.03,1624.70H1657.83Q1662.43,1624.70 1662.43,1620.10V1591Z"/>
<path fill="#000" d="M1805.07,1591V1606.40Q1805.07,1611.00 1809.67,1611.00H1812.47Q1817.07,1611.00 1817.07,1606.40V1591Z"/>
<path fill="#000" d="M1959.71,1591V1620.10Q1959.71,1624.70 1964.31,1624.70H1967.11Q1971.71,1624.70 1971.71,1620.10V1591Z"/>
<path fill="#000" d="M2114.36,1591V1606.40Q2114.36,1611.00 2118.96,1611.00H2121.76Q2126.36,1611.00 2126.36,1606.40V1591Z"/>
<path fill="#000" d="M2269.00,1591V1620.10Q2269.00,1624.70 2273.60,1624.70H2276.40Q2281.00,1624.70 2281.00,1620.10V1591Z"/>
<text transform="matrix(1.0267 0 0 1.0081 127.13 393.53)" font-size="69" font-weight="bold">PBD</text>
<text transform="matrix(1.0267 0 0 1.0081 132.90 863.68)" font-size="69" font-weight="bold">DFBP</text>
<text transform="matrix(1.0267 0 0 1.0081 138.62 1249.73)" font-size="69" font-weight="bold">BHPF</text>
<text transform="matrix(0.9760 0 0 0.9746 459.29 194.18)" font-size="54" font-weight="bold">-OH</text>
<text transform="matrix(0.9760 0 0 0.9746 1509.57 208.63)" font-size="54" font-weight="bold">C=O</text>
<text transform="matrix(0.9760 0 0 0.9746 1745.76 209.23)" font-size="54" font-weight="bold">C-O-C</text>
<text transform="matrix(0.9760 0 0 0.9746 1999.99 203.30)" font-size="54" font-weight="bold">Ar-F</text>
<text transform="matrix(0.9847 0 0 0.9853 45.80 1685.71)" font-size="66" font-weight="bold">4000</text>
<text transform="matrix(0.9847 0 0 0.9853 354.06 1685.71)" font-size="66" font-weight="bold">3500</text>
<text transform="matrix(0.9847 0 0 0.9853 663.76 1685.71)" font-size="66" font-weight="bold">3000</text>
<text transform="matrix(0.9847 0 0 0.9853 972.44 1685.71)" font-size="66" font-weight="bold">2500</text>
<text transform="matrix(0.9847 0 0 0.9853 1282.04 1685.71)" font-size="66" font-weight="bold">2000</text>
<text transform="matrix(0.9847 0 0 0.9853 1592.36 1685.71)" font-size="66" font-weight="bold">1500</text>
<text transform="matrix(0.9847 0 0 0.9853 1901.91 1685.71)" font-size="66" font-weight="bold">1000</text>
<text transform="matrix(0.9847 0 0 0.9853 2227.13 1685.71)" font-size="66" font-weight="bold">500</text>
<text transform="matrix(1.0382 0 0 1.0208 1351.13 583.84)" font-size="50" font-weight="normal">1655cm</text>
<text transform="matrix(1.0382 0 0 1.0208 1851.23 825.34)" font-size="50" font-weight="normal">1245cm</text>
<text transform="matrix(1.0382 0 0 1.0208 1873.66 1186.97)" font-size="50" font-weight="normal">845cm</text>
<text transform="matrix(1.0382 0 0 1.0208 308.02 1401.97)" font-size="50" font-weight="normal">3330cm</text>
<text transform="matrix(1.0382 0 0 1.0208 2091.11 1520.84)" font-size="50" font-weight="normal">745cm</text>
<text transform="matrix(0.9463 0 0 1.0256 1517.70 546.82)" font-size="38" font-weight="normal">-1</text>
<text transform="matrix(0.9463 0 0 1.0256 2016.70 788.47)" font-size="38" font-weight="normal">-1</text>
<text transform="matrix(0.9463 0 0 1.0256 2014.80 1149.32)" font-size="38" font-weight="normal">-1</text>
<text transform="matrix(0.9463 0 0 1.0256 475.70 1364.92)" font-size="38" font-weight="normal">-1</text>
<text transform="matrix(0.9463 0 0 1.0256 2233.20 1484.47)" font-size="38" font-weight="normal">-1</text>
<text transform="matrix(1.0248 0 0 1.0086 774.08 1788.14)" font-size="78" font-weight="bold">Wavenumbers/cm</text>
<text transform="matrix(1.1343 0 0 1.0248 1411.95 1767.70)" font-size="46" font-weight="bold">1</text>
<text transform="matrix(0.9741 0 0 1.1667 1389.86 1771.94)" font-size="46" font-weight="bold">&#8722;</text>
<line x1="516.45" y1="255.9" x2="516.45" y2="1533" stroke="#000" stroke-width="1.0"/><line x1="516.45" y1="255.9" x2="516.45" y2="1533" stroke="#000" stroke-width="5.0" stroke-dasharray="6.3 1.75"/>
<line x1="1561.55" y1="271.8" x2="1561.55" y2="1547.1" stroke="#000" stroke-width="1.0"/><line x1="1561.55" y1="271.8" x2="1561.55" y2="1547.1" stroke="#000" stroke-width="5.0" stroke-dasharray="6.3 1.75"/>
<line x1="1819.3" y1="266.3" x2="1819.3" y2="1542.9" stroke="#000" stroke-width="1.0"/><line x1="1819.3" y1="266.3" x2="1819.3" y2="1542.9" stroke="#000" stroke-width="5.0" stroke-dasharray="6.3 1.75"/>
<line x1="2060.6" y1="269.5" x2="2060.6" y2="1545.5" stroke="#000" stroke-width="1.0"/><line x1="2060.6" y1="269.5" x2="2060.6" y2="1545.5" stroke="#000" stroke-width="5.0" stroke-dasharray="6.3 1.75"/>
<line x1="2122.5" y1="269.5" x2="2122.5" y2="1545.5" stroke="#000" stroke-width="1.0"/><line x1="2122.5" y1="269.5" x2="2122.5" y2="1545.5" stroke="#000" stroke-width="5.0" stroke-dasharray="6.3 1.75"/>
<line x1="1560.0" y1="444.5" x2="1497.4" y2="505.3" stroke="#000" stroke-width="3.8"/><polygon points="1471.6,530.4 1492.0,496.9 1505.7,510.9" fill="#000"/>
<line x1="1837.0" y1="741.0" x2="1869.1" y2="762.4" stroke="#000" stroke-width="3.8"/><polygon points="1899.0,782.4 1862.0,769.4 1872.8,753.1" fill="#000"/>
<line x1="2051.0" y1="1103.0" x2="2006.3" y2="1125.1" stroke="#000" stroke-width="3.8"/><polygon points="1974.0,1141.0 2003.7,1115.4 2012.4,1133.0" fill="#000"/>
<line x1="529.5" y1="1268.8" x2="474.4" y2="1320.8" stroke="#000" stroke-width="3.8"/><polygon points="448.2,1345.5 469.1,1312.3 482.6,1326.5" fill="#000"/>
<line x1="2133.0" y1="1418.7" x2="2145.4" y2="1450.9" stroke="#000" stroke-width="3.8"/><polygon points="2158.3,1484.5 2135.5,1452.5 2153.8,1445.5" fill="#000"/>
</svg></body></html>
